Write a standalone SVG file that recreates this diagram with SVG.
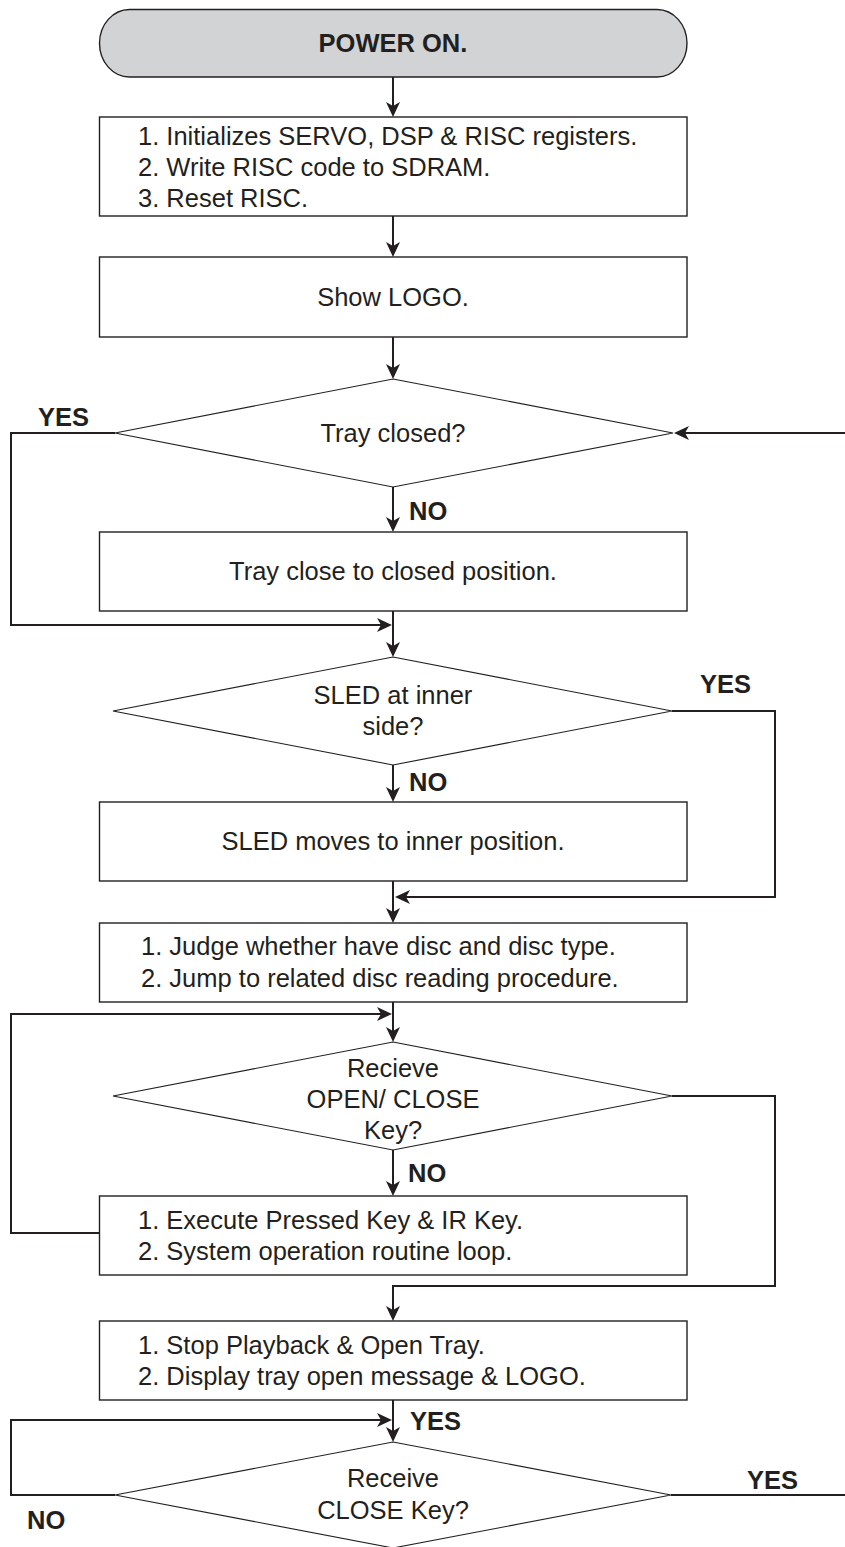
<svg xmlns="http://www.w3.org/2000/svg" width="845" height="1547" viewBox="0 0 845 1547">
<defs>
<marker id="ah" markerUnits="userSpaceOnUse" markerWidth="20" markerHeight="16" viewBox="-16 -8 20 16" refX="-3" refY="0" orient="auto">
<path d="M0,0 L-15,-7 L-11,0 L-15,7 Z" fill="#231f20"/>
</marker>
</defs>
<style>
.box{fill:#ffffff;stroke:#231f20;stroke-width:1.4}
.term{fill:#d1d3d4;stroke:#231f20;stroke-width:1.4}
.dia{fill:#ffffff;stroke:#231f20;stroke-width:1.1}
.c{fill:none;stroke:#231f20;stroke-width:2}
.a{marker-end:url(#ah)}
text{font-family:"Liberation Sans",Arial,sans-serif;font-size:25.5px;fill:#231f20}
.m{text-anchor:middle}
.b{font-weight:bold}
</style>
<rect width="845" height="1547" fill="#ffffff"/>
<g id="connectors">
<path class="c a" d="M393,77 V114"/>
<path class="c a" d="M393,216 V254"/>
<path class="c a" d="M393,337 V376"/>
<path class="c a" d="M393,487 V529"/>
<path class="c a" d="M115,433 H11 V625 H389"/>
<path class="c a" d="M393,611 V654"/>
<path class="c a" d="M845,433 H677"/>
<path class="c a" d="M393,765 V799"/>
<path class="c a" d="M672,711 H775 V897 H398"/>
<path class="c a" d="M393,881 V920"/>
<path class="c a" d="M393,1002 V1039"/>
<path class="c a" d="M99,1233 H11 V1014 H389"/>
<path class="c a" d="M393,1150 V1193"/>
<path class="c a" d="M672,1096 H775 V1286 H393 V1318"/>
<path class="c a" d="M393,1400 V1439"/>
<path class="c a" d="M115,1495 H11 V1420 H389"/>
<path class="c" d="M671,1495 H845"/>
<text class="b" x="38" y="426">YES</text>
<text class="b" x="409" y="520">NO</text>
<text class="b" x="700" y="693">YES</text>
<text class="b" x="409" y="791">NO</text>
<text class="b" x="408" y="1182">NO</text>
<text class="b" x="410" y="1430">YES</text>
<text class="b" x="747" y="1489">YES</text>
<text class="b" x="27" y="1529">NO</text>
</g>
<g id="power-on">
<rect class="term" x="99.5" y="9.5" width="587.5" height="67.5" rx="30" ry="34"/>
<text class="m b" x="393" y="52">POWER ON.</text>
</g>
<g id="init">
<rect class="box" x="99.5" y="117" width="587.5" height="99"/>
<text x="138" y="145">1. Initializes SERVO, DSP &amp; RISC registers.</text>
<text x="138" y="176">2. Write RISC code to SDRAM.</text>
<text x="138" y="207">3. Reset RISC.</text>
</g>
<g id="show-logo">
<rect class="box" x="99.5" y="257" width="587.5" height="80"/>
<text class="m" x="393" y="306">Show LOGO.</text>
</g>
<g id="tray-closed">
<polygon class="dia" points="393,379 673,433 393,487 115,433"/>
<text class="m" x="393" y="442">Tray closed?</text>
</g>
<g id="tray-close">
<rect class="box" x="99.5" y="532" width="587.5" height="79"/>
<text class="m" x="393" y="580">Tray close to closed position.</text>
</g>
<g id="sled-inner">
<polygon class="dia" points="393,657 672,711 393,765 113,711"/>
<text class="m" x="393" y="704">SLED at inner</text>
<text class="m" x="393" y="735">side?</text>
</g>
<g id="sled-moves">
<rect class="box" x="99.5" y="802" width="587.5" height="79"/>
<text class="m" x="393" y="850">SLED moves to inner position.</text>
</g>
<g id="judge">
<rect class="box" x="99.5" y="923" width="587.5" height="79"/>
<text x="141" y="955">1. Judge whether have disc and disc type.</text>
<text x="141" y="987">2. Jump to related disc reading procedure.</text>
</g>
<g id="recieve-open-close">
<polygon class="dia" points="393,1042 672,1096 393,1150 113,1096"/>
<text class="m" x="393" y="1077">Recieve</text>
<text class="m" x="393" y="1108">OPEN/ CLOSE</text>
<text class="m" x="393" y="1139">Key?</text>
</g>
<g id="execute">
<rect class="box" x="99.5" y="1196" width="587.5" height="79"/>
<text x="138" y="1229">1. Execute Pressed Key &amp; IR Key.</text>
<text x="138" y="1260">2. System operation routine loop.</text>
</g>
<g id="stop-playback">
<rect class="box" x="99.5" y="1321" width="587.5" height="79"/>
<text x="138" y="1354">1. Stop Playback &amp; Open Tray.</text>
<text x="138" y="1385">2. Display tray open message &amp; LOGO.</text>
</g>
<g id="receive-close">
<polygon class="dia" points="393,1442 671,1495 393,1548 115,1495"/>
<text class="m" x="393" y="1487">Receive</text>
<text class="m" x="393" y="1519">CLOSE Key?</text>
</g>
</svg>
